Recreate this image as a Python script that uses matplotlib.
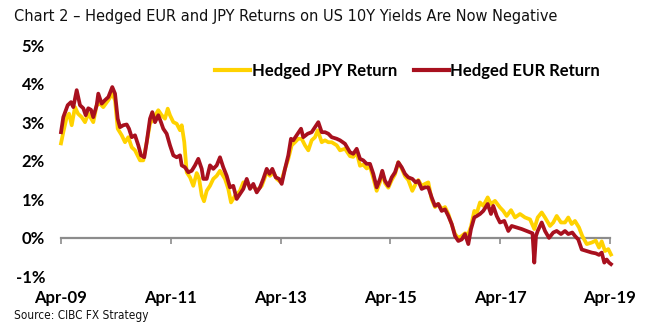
import matplotlib
matplotlib.use("Agg")
import matplotlib.pyplot as plt
from matplotlib import font_manager
from matplotlib.font_manager import FontProperties

# ---------------- data ----------------
eur_dates = [2009.250, 2009.292, 2009.372, 2009.432, 2009.474, 2009.536, 2009.596, 2009.656, 2009.700, 2009.747,
             2009.796, 2009.838, 2009.900, 2009.929, 2009.991, 2010.051, 2010.112, 2010.184, 2010.234, 2010.283,
             2010.325, 2010.385, 2010.447, 2010.489, 2010.538, 2010.598, 2010.658, 2010.707, 2010.767, 2010.811,
             2010.871, 2010.913, 2010.962, 2011.022, 2011.071, 2011.113, 2011.175, 2011.235, 2011.296, 2011.357,
             2011.418, 2011.449, 2011.509, 2011.569, 2011.631, 2011.691, 2011.751, 2011.813, 2011.842, 2011.904,
             2011.964, 2012.024, 2012.086, 2012.146, 2012.206, 2012.268, 2012.328, 2012.388, 2012.450, 2012.510,
             2012.571, 2012.633, 2012.693, 2012.753, 2012.815, 2012.875, 2012.935, 2012.997, 2013.048, 2013.099,
             2013.161, 2013.221, 2013.270, 2013.330, 2013.390, 2013.439, 2013.481, 2013.543, 2013.622, 2013.663,
             2013.744, 2013.816, 2013.877, 2013.937, 2013.999, 2014.059, 2014.119, 2014.181, 2014.272, 2014.332,
             2014.423, 2014.514, 2014.574, 2014.636, 2014.696, 2014.756, 2014.818, 2014.878, 2014.939, 2015.000,
             2015.061, 2015.102, 2015.152, 2015.212, 2015.274, 2015.334, 2015.394, 2015.456, 2015.516, 2015.576,
             2015.649, 2015.711, 2015.758, 2015.820, 2015.880, 2015.940, 2016.002, 2016.062, 2016.122, 2016.184,
             2016.245, 2016.305, 2016.367, 2016.427, 2016.487, 2016.549, 2016.609, 2016.669, 2016.718, 2016.778,
             2016.827, 2016.882, 2016.942, 2017.022, 2017.082, 2017.124, 2017.186, 2017.246, 2017.325, 2017.398,
             2017.459, 2017.551, 2017.642, 2017.733, 2017.811, 2017.838, 2017.871, 2017.902, 2017.933, 2018.006,
             2018.066, 2018.139, 2018.217, 2018.279, 2018.357, 2018.430, 2018.490, 2018.563, 2018.612, 2018.672,
             2018.735, 2018.826, 2018.917, 2018.990, 2019.050, 2019.099, 2019.146, 2019.190, 2019.232, 2019.268]
eur_return = [2.74, 3.13, 3.44, 3.52, 3.39, 3.83, 3.44, 3.36, 3.18, 3.36,
              3.32, 3.13, 3.44, 3.74, 3.48, 3.57, 3.65, 3.91, 3.74, 3.09,
              2.87, 2.92, 2.94, 2.83, 2.61, 2.66, 2.40, 2.14, 2.09, 2.48,
              3.09, 3.26, 3.00, 3.18, 3.00, 2.83, 2.70, 2.40, 2.14, 2.09,
              2.14, 1.88, 1.83, 1.70, 1.74, 1.88, 2.05, 1.79, 1.53, 1.53,
              1.88, 1.79, 1.88, 2.09, 1.83, 1.61, 1.31, 1.35, 1.01, 1.14,
              1.27, 1.53, 1.27, 1.40, 1.18, 1.31, 1.53, 1.79, 1.66, 1.79,
              1.57, 1.53, 1.40, 1.79, 2.14, 2.57, 2.53, 2.66, 2.83, 2.61,
              2.70, 2.74, 2.87, 3.00, 2.74, 2.74, 2.70, 2.61, 2.57, 2.53,
              2.44, 2.22, 2.18, 2.31, 2.05, 2.01, 1.92, 1.92, 1.66, 1.31,
              1.53, 1.74, 1.48, 1.35, 1.57, 1.70, 1.96, 1.83, 1.66, 1.57,
              1.53, 1.44, 1.48, 1.27, 1.31, 1.31, 1.05, 0.83, 0.88, 0.70,
              0.74, 0.57, 0.36, 0.05, -0.08, -0.04, 0.10, -0.16, 0.23, 0.53,
              0.57, 0.62, 0.70, 0.88, 0.62, 0.83, 0.57, 0.40, 0.44, 0.18,
              0.31, 0.27, 0.23, 0.18, 0.14, 0.12, -0.64, 0.05, 0.18, 0.40,
              0.18, 0.00, 0.14, 0.18, 0.10, 0.18, 0.10, 0.14, 0.05, -0.04,
              -0.30, -0.34, -0.38, -0.40, -0.44, -0.38, -0.64, -0.56, -0.64, -0.68]

jpy_dates = [2009.250, 2009.292, 2009.354, 2009.396, 2009.445, 2009.505, 2009.560, 2009.627, 2009.687, 2009.747,
             2009.838, 2009.900, 2009.960, 2010.020, 2010.112, 2010.184, 2010.234, 2010.283, 2010.356, 2010.416,
             2010.476, 2010.538, 2010.598, 2010.689, 2010.749, 2010.811, 2010.871, 2010.931, 2011.022, 2011.084,
             2011.144, 2011.194, 2011.235, 2011.296, 2011.357, 2011.418, 2011.449, 2011.496, 2011.540, 2011.600,
             2011.660, 2011.722, 2011.764, 2011.813, 2011.855, 2011.904, 2011.964, 2012.024, 2012.086, 2012.146,
             2012.237, 2012.297, 2012.347, 2012.419, 2012.510, 2012.571, 2012.633, 2012.693, 2012.753, 2012.815,
             2012.906, 2012.997, 2013.057, 2013.117, 2013.179, 2013.257, 2013.330, 2013.390, 2013.452, 2013.512,
             2013.572, 2013.634, 2013.694, 2013.755, 2013.816, 2013.877, 2013.926, 2013.999, 2014.059, 2014.119,
             2014.181, 2014.272, 2014.332, 2014.423, 2014.514, 2014.574, 2014.636, 2014.696, 2014.756, 2014.818,
             2014.878, 2014.939, 2015.000, 2015.061, 2015.102, 2015.152, 2015.212, 2015.274, 2015.334, 2015.394,
             2015.456, 2015.516, 2015.576, 2015.649, 2015.711, 2015.758, 2015.820, 2015.880, 2015.940, 2016.002,
             2016.062, 2016.122, 2016.184, 2016.245, 2016.305, 2016.367, 2016.427, 2016.487, 2016.549, 2016.609,
             2016.669, 2016.718, 2016.778, 2016.827, 2016.882, 2016.942, 2017.022, 2017.082, 2017.155, 2017.246,
             2017.306, 2017.368, 2017.447, 2017.520, 2017.611, 2017.702, 2017.793, 2017.871, 2017.933, 2018.006,
             2018.066, 2018.157, 2018.217, 2018.279, 2018.357, 2018.430, 2018.490, 2018.552, 2018.612, 2018.685,
             2018.745, 2018.826, 2018.917, 2018.990, 2019.050, 2019.099, 2019.159, 2019.219, 2019.268]
jpy_return = [2.45, 2.74, 3.13, 3.22, 2.92, 3.39, 3.22, 3.13, 3.00, 3.22,
              3.00, 3.44, 3.48, 3.39, 3.57, 3.74, 3.57, 2.83, 2.66, 2.48,
              2.61, 2.35, 2.27, 2.01, 2.01, 2.48, 2.96, 3.09, 3.31, 3.18,
              3.09, 3.35, 3.18, 3.00, 2.96, 2.79, 2.92, 2.48, 1.70, 1.57,
              1.35, 1.68, 1.55, 1.10, 0.95, 1.22, 1.35, 1.53, 1.61, 1.74,
              1.53, 1.27, 0.92, 1.09, 1.22, 1.44, 1.44, 1.31, 1.35, 1.22,
              1.35, 1.70, 1.61, 1.70, 1.53, 1.44, 1.79, 2.05, 2.40, 2.48,
              2.57, 2.57, 2.40, 2.27, 2.53, 2.61, 2.79, 2.48, 2.53, 2.48,
              2.48, 2.40, 2.27, 2.31, 2.12, 2.10, 2.22, 1.87, 1.90, 1.80,
              1.85, 1.55, 1.22, 1.45, 1.70, 1.42, 1.30, 1.50, 1.65, 1.96,
              1.80, 1.60, 1.50, 1.22, 1.40, 1.50, 1.35, 1.40, 1.44, 1.00,
              0.80, 0.88, 0.75, 0.80, 0.62, 0.35, 0.10, 0.00, 0.05, 0.12,
              0.10, 0.30, 0.70, 0.66, 0.92, 0.83, 1.05, 0.88, 0.96, 0.79,
              0.70, 0.57, 0.72, 0.53, 0.62, 0.53, 0.48, 0.23, 0.53, 0.66,
              0.53, 0.31, 0.40, 0.57, 0.40, 0.40, 0.53, 0.36, 0.44, 0.27,
              0.05, -0.16, -0.12, -0.07, -0.25, -0.09, -0.34, -0.29, -0.43]

tick_years = [2009.25, 2011.25, 2013.25, 2015.25, 2017.25, 2019.25]
tick_labels = ["Apr-09", "Apr-11", "Apr-13", "Apr-15", "Apr-17", "Apr-19"]
y_ticks = [-1, 0, 1, 2, 3, 4, 5]
y_labels = ["-1%", "0%", "1%", "2%", "3%", "4%", "5%"]

title = "Chart 2 \u2013 Hedged EUR and JPY Returns on US 10Y Yields Are Now Negative"
source = "Source: CIBC FX Strategy"

# ---------------- fonts ----------------
avail = {f.name for f in font_manager.fontManager.ttflist}
bold_font = "Lato" if "Lato" in avail else "DejaVu Sans"
narrow_file = None
for f in font_manager.fontManager.ttflist:
    n = f.name
    if (("Narrow" in n or "Condensed" in n or f.stretch in ("condensed", "semi-condensed"))
            and f.weight in (400, "normal", "regular") and f.style == "normal"):
        narrow_file = f.fname
        break
if narrow_file:
    narrow_prop = FontProperties(fname=narrow_file)
else:
    narrow_prop = FontProperties(family="Liberation Sans")

YELLOW = "#FFD200"
RED = "#A8101E"
GREY = "#8C8C8C"

W, H = 653, 328
fig = plt.figure(figsize=(W / 100, H / 100), dpi=100)
left, right = 61 / W, 610 / W
top, bottom = 1 - 45 / H, 1 - 276.5 / H
ax = fig.add_axes([left, bottom, right - left, top - bottom])

ax.plot(jpy_dates, jpy_return, color=YELLOW, lw=2.7, label="Hedged JPY Return",
        solid_joinstyle="round", clip_on=False, zorder=3)
ax.plot(eur_dates, eur_return, color=RED, lw=2.7, label="Hedged EUR Return",
        solid_joinstyle="round", clip_on=False, zorder=4)

ax.set_xlim(tick_years[0], tick_years[-1])
ax.set_ylim(y_ticks[0], y_ticks[-1])

for s in ("top", "right", "left"):
    ax.spines[s].set_visible(False)
ax.spines["bottom"].set_position(("data", 0))
ax.spines["bottom"].set_color(GREY)
ax.spines["bottom"].set_linewidth(1.6)

ax.set_xticks(tick_years)
ax.set_xticklabels([])
ax.tick_params(axis="x", direction="out", length=4, width=1.2, color=GREY)
for xv, lab in zip(tick_years, tick_labels):
    ax.text(xv, -1.57, lab, ha="center", va="center", fontsize=12,
            fontweight="bold", family=bold_font, color="black")

ax.set_yticks(y_ticks)
ax.set_yticklabels(y_labels, fontsize=12, fontweight="bold", family=bold_font)
ax.tick_params(axis="y", length=0, pad=11.5)

leg = ax.legend(loc="center left", bbox_to_anchor=(215 / W, 1 - 70.7 / H),
                bbox_transform=fig.transFigure, ncol=2, frameon=False,
                handlelength=2.1, handletextpad=0.1, columnspacing=1.0,
                borderaxespad=0, borderpad=0,
                prop={"family": bold_font, "weight": "bold", "size": 12})
for lh in leg.get_lines():
    lh.set_linewidth(3.0)


def fitted_text(x_px, y_px, s, target_w, size):
    t = fig.text(x_px / W, 1 - y_px / H, s, ha="left", va="center",
                 fontproperties=narrow_prop.copy(), color="#111111")
    t.set_fontsize(size)
    r = fig.canvas.get_renderer()
    w = t.get_window_extent(renderer=r).width
    if w > 0:
        t.set_fontsize(size * target_w / w)
    return t


fitted_text(14, 16, title, 545, 13.5)
fitted_text(14, 316, source, 134, 10)

fig.savefig("out.png", dpi=100)
